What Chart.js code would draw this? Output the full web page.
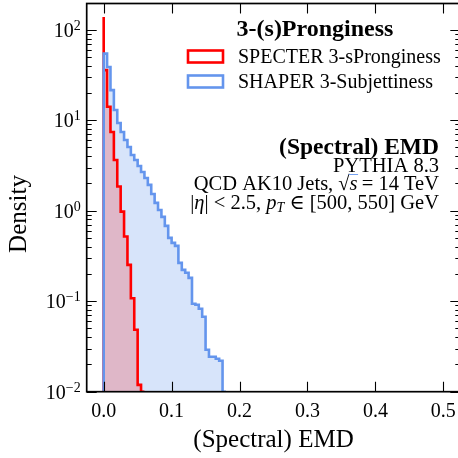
<!DOCTYPE html>
<html>
<head>
<meta charset="utf-8">
<script src="https://cdn.jsdelivr.net/npm/chart.js@4.4.1/dist/chart.umd.min.js"></script>
<style>
  html, body { margin: 0; padding: 0; overflow: hidden; background: #fff; }
  canvas { display: block; }
</style>
</head>
<body>
<canvas id="emdChart" width="462" height="458"></canvas>
<script>
// histogram bins: width 0.005 starting at 0
var binWidth = 0.005;
var specterDensity = [138, 35.8, 14.1, 7.41, 3.64, 1.85, 0.977, 0.518, 0.252, 0.108, 0.0483, 0.0119];
var shaperDensity = [24.5, 54.5, 38.7, 21.5, 12.97, 9.31, 7.41, 6.04, 5.06, 4.13, 3.64, 3.12,
  2.68, 2.30, 1.93, 1.53, 1.22, 1.02, 0.855, 0.680, 0.501, 0.441, 0.409, 0.265,
  0.222, 0.206, 0.181, 0.0936, 0.0915, 0.0824, 0.0673, 0.0291, 0.0243, 0.0243, 0.0231, 0.0220];
var xTicks = [0.0, 0.1, 0.2, 0.3, 0.4, 0.5];
var yTicks = [0.01, 0.1, 1, 10, 100];
var yTickExps = ['\u22122', '\u22121', '0', '1', '2'];

var xMin = -0.025, xMax = 0.525;
var yMin = 0.01, yMax = 195;

var SERIF = "'Liberation Serif', 'DejaVu Serif', serif";
var RED = '#ff0000';
var BLUE = '#6495ed';

// turn bin densities into points for a stepped outline
function stepPoints(density) {
  var pts = [{x: 0, y: yMin}];
  density.forEach(function (v, i) {
    pts.push({x: i * binWidth, y: v});
  });
  pts.push({x: density.length * binWidth, y: yMin});
  return pts;
}

// draw a run of text pieces with their own fonts / offsets
function drawRich(ctx, parts, x, y, align) {
  var total = 0;
  parts.forEach(function (p) {
    ctx.font = p.font;
    p.w = ctx.measureText(p.t).width;
    total += p.w;
  });
  var cx = align === 'right' ? x - total : (align === 'center' ? x - total / 2 : x);
  parts.forEach(function (p) {
    ctx.font = p.font;
    ctx.textAlign = 'left';
    ctx.fillText(p.t, cx, y + (p.dy || 0));
    if (p.over) {
      ctx.save();
      ctx.lineWidth = 0.9;
      ctx.beginPath();
      ctx.moveTo(cx - 1, y - p.over);
      ctx.lineTo(cx + p.w + 0.5, y - p.over);
      ctx.stroke();
      ctx.restore();
    }
    cx += p.w;
  });
}

var frameAndTicks = {
  id: 'frameAndTicks',
  afterDatasetsDraw: function (chart) {
    var ctx = chart.ctx, a = chart.chartArea;
    var xs = chart.scales.x, ys = chart.scales.y;
    ctx.save();
    ctx.strokeStyle = '#000';
    ctx.lineWidth = 1.1;
    ctx.beginPath();
    xTicks.forEach(function (t) {
      var px = Math.round(xs.getPixelForValue(t)) + 0.5;
      ctx.moveTo(px, a.bottom); ctx.lineTo(px, a.bottom - 10);
      ctx.moveTo(px, a.top); ctx.lineTo(px, a.top + 10);
    });
    for (var e = -2; e <= 2; e++) {
      for (var m = 1; m <= 9; m++) {
        var v = m * Math.pow(10, e);
        if (v < yMin || v > yMax) continue;
        var py = Math.round(ys.getPixelForValue(v)) + 0.5;
        var len = m === 1 ? 10 : 5;
        ctx.moveTo(a.left, py); ctx.lineTo(a.left + len, py);
        ctx.moveTo(a.right, py); ctx.lineTo(a.right - len, py);
      }
    }
    ctx.stroke();
    ctx.lineWidth = 1.7;
    ctx.strokeRect(a.left, a.top, a.right - a.left, a.bottom - a.top);

    ctx.fillStyle = '#000';
    ctx.textBaseline = 'alphabetic';

    // x tick labels
    ctx.font = '20px ' + SERIF;
    ctx.textAlign = 'center';
    xTicks.forEach(function (t) {
      ctx.fillText(t.toFixed(1), xs.getPixelForValue(t), a.bottom + 25);
    });

    // y tick labels as 10 with a raised exponent
    yTicks.forEach(function (t, i) {
      var py = ys.getPixelForValue(t);
      drawRich(ctx, [
        {t: '10', font: '20px ' + SERIF},
        {t: yTickExps[i], font: '14px ' + SERIF, dy: -7}
      ], a.left - 6, py + 7, 'right');
    });

    // axis titles
    ctx.font = '25px ' + SERIF;
    ctx.textAlign = 'center';
    ctx.fillText('(Spectral) EMD', (xs.getPixelForValue(0.25)), 446.5);
    ctx.save();
    ctx.translate(26, 214);
    ctx.rotate(-Math.PI / 2);
    ctx.fillText('Density', 0, 0);
    ctx.restore();
    ctx.restore();
  }
};

var annotations = {
  id: 'annotations',
  afterDraw: function (chart) {
    var ctx = chart.ctx;
    ctx.save();
    ctx.fillStyle = '#000';
    ctx.textBaseline = 'alphabetic';

    // legend
    ctx.font = 'bold 24px ' + SERIF;
    ctx.textAlign = 'center';
    ctx.fillText('3-(s)Pronginess', 315, 36);
    var entries = [
      {label: 'SPECTER 3-sPronginess', color: RED, y: 56.5},
      {label: 'SHAPER 3-Subjettiness', color: BLUE, y: 81.5}
    ];
    entries.forEach(function (en) {
      ctx.lineWidth = 2.6;
      ctx.strokeStyle = en.color;
      ctx.fillStyle = '#fff';
      ctx.fillRect(188, en.y - 6, 35, 12);
      ctx.strokeRect(188, en.y - 6, 35, 12);
      ctx.fillStyle = '#000';
      ctx.font = '20px ' + SERIF;
      ctx.textAlign = 'left';
      ctx.fillText(en.label, 238, en.y + 6.5);
    });

    // run information
    var rx = 439;
    var reg = '20.5px ' + SERIF, ital = 'italic 20.5px ' + SERIF, sub = 'italic 14px ' + SERIF;
    ctx.textAlign = 'right';
    ctx.font = 'bold 23.5px ' + SERIF;
    ctx.fillText('(Spectral) EMD', rx, 153.5);
    ctx.font = reg;
    ctx.fillText('PYTHIA 8.3', rx, 171.8);
    drawRich(ctx, [
      {t: 'QCD AK10 Jets, ', font: reg},
      {t: '\u221a', font: reg},
      {t: 's', font: ital, over: 15.5},
      {t: '\u2009= 14 TeV', font: reg}
    ], rx, 190, 'right');
    drawRich(ctx, [
      {t: '|', font: reg},
      {t: '\u03b7', font: ital},
      {t: '| < 2.5, ', font: reg},
      {t: 'p', font: ital},
      {t: 'T', font: sub, dy: 3.5},
      {t: ' \u2208 [500, 550] GeV', font: reg}
    ], rx, 208.5, 'right');
    ctx.restore();
  }
};

var ctxEmd = document.getElementById('emdChart').getContext('2d');
var emdChart = new Chart(ctxEmd, {
  type: 'line',
  data: {
    datasets: [
      {
        label: 'SHAPER fill',
        data: stepPoints(shaperDensity),
        stepped: 'after',
        fill: 'start',
        backgroundColor: 'rgba(100, 149, 237, 0.26)',
        borderColor: 'transparent',
        borderWidth: 0,
        pointRadius: 0,
        order: 4
      },
      {
        label: 'SPECTER fill',
        data: stepPoints(specterDensity),
        stepped: 'after',
        fill: 'start',
        backgroundColor: 'rgba(255, 0, 0, 0.2)',
        borderColor: 'transparent',
        borderWidth: 0,
        pointRadius: 0,
        order: 3
      },
      {
        label: 'SPECTER 3-sPronginess',
        data: stepPoints(specterDensity),
        stepped: 'after',
        fill: false,
        borderColor: RED,
        borderWidth: 2.6,
        pointRadius: 0,
        order: 2
      },
      {
        label: 'SHAPER 3-Subjettiness',
        data: stepPoints(shaperDensity),
        stepped: 'after',
        fill: false,
        borderColor: BLUE,
        borderWidth: 2.6,
        pointRadius: 0,
        order: 1
      }
    ]
  },
  options: {
    responsive: false,
    animation: false,
    events: [],
    layout: {
      padding: {left: 0, top: 3.5, right: 1.7, bottom: 0}
    },
    plugins: {
      legend: {display: false},
      tooltip: {enabled: false}
    },
    scales: {
      x: {
        type: 'linear',
        min: xMin,
        max: xMax,
        grid: {display: false, drawTicks: false},
        border: {display: false},
        ticks: {display: false},
        afterFit: function (scale) { scale.height = 66.3; }
      },
      y: {
        type: 'logarithmic',
        min: yMin,
        max: yMax,
        grid: {display: false, drawTicks: false},
        border: {display: false},
        ticks: {display: false},
        afterFit: function (scale) { scale.width = 86.7; }
      }
    }
  },
  plugins: [frameAndTicks, annotations]
});
</script>
</body>
</html>
